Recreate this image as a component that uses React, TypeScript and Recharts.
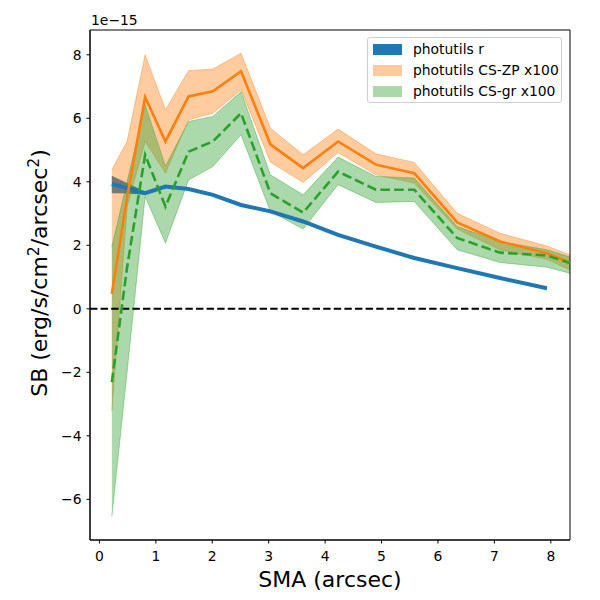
import React from 'react';
import { ComposedChart, Area, Line, XAxis, YAxis, ReferenceLine, ReferenceArea } from 'recharts';

// SMA sample points (arcsec); the last one lies just past the right edge
const sma = [0.22, 0.49, 0.81, 1.17, 1.58, 2.01, 2.51, 3.03, 3.61, 4.23, 4.9, 5.58, 6.34, 7.1, 7.93, 8.8];

// photutils r (units of 1e-15)
const rMean = [3.93, 3.8, 3.64, 3.85, 3.77, 3.59, 3.27, 3.07, 2.75, 2.33, 1.96, 1.6, 1.28, 0.97, 0.65, null];
const rLo = [3.64, 3.63, 3.59, 3.81, 3.73, 3.55, 3.23, 3.03, 2.71, 2.29, 1.92, 1.56, 1.24, 0.93, 0.61, null];
const rHi = [4.19, 3.96, 3.69, 3.89, 3.81, 3.63, 3.31, 3.11, 2.79, 2.37, 2.0, 1.64, 1.32, 1.01, 0.69, null];

// photutils CS-ZP x100
const zpMean = [0.47, 3.5, 6.67, 5.27, 6.69, 6.85, 7.48, 5.18, 4.43, 5.27, 4.54, 4.27, 2.72, 2.12, 1.75, 1.13];
const zpLo = [-3.23, 3.2, 5.27, 4.27, 5.95, 6.16, 6.9, 4.62, 3.98, 4.92, 4.22, 3.96, 2.51, 1.86, 1.56, 0.86];
const zpHi = [4.38, 5.27, 8.0, 6.27, 7.5, 7.55, 8.05, 5.69, 4.85, 5.66, 4.88, 4.61, 3.01, 2.38, 1.98, 1.38];

// photutils CS-gr x100
const grMean = [-2.31, 1.3, 4.85, 3.22, 4.95, 5.27, 6.16, 3.64, 3.03, 4.32, 3.75, 3.75, 2.23, 1.77, 1.68, 1.17];
const grLo = [-6.54, -2.0, 3.54, 2.07, 4.06, 4.48, 5.48, 3.07, 2.51, 3.91, 3.35, 3.38, 1.86, 1.46, 1.31, 0.91];
const grHi = [1.96, 4.0, 6.42, 4.5, 5.9, 6.06, 6.84, 4.22, 3.59, 4.78, 4.17, 4.12, 2.59, 2.12, 1.86, 1.37];

const xTicks = [0, 1, 2, 3, 4, 5, 6, 7, 8];
const yTicks = [-6, -4, -2, 0, 2, 4, 6, 8];

const legendItems = [
  { label: 'photutils r', color: '#1f77b4', opacity: 1 },
  { label: 'photutils CS-ZP x100', color: '#ff7f0e', opacity: 0.4 },
  { label: 'photutils CS-gr x100', color: '#2ca02c', opacity: 0.4 },
];

const data = sma.map((x, i) => ({
  sma: x,
  r: rMean[i],
  rBand: rMean[i] == null ? null : [rLo[i], rHi[i]],
  zp: zpMean[i],
  zpBand: [zpLo[i], zpHi[i]],
  gr: grMean[i],
  grBand: [grLo[i], grHi[i]],
}));

const font = '"DejaVu Sans", sans-serif';
const tickStyle = { fill: '#000', fontSize: 13.9, fontFamily: font };
const fmt = (v: number) => (v < 0 ? '\u2212' + Math.abs(v) : String(v));

const App: React.FC = () => {
  return (
    <div style={{ position: 'absolute', left: 0, top: 0, width: 600, height: 600, background: '#fff' }}>
      <ComposedChart width={600} height={600} data={data} margin={{ top: 30, right: 30, left: 0, bottom: 0 }}>
        <XAxis
          type="number"
          dataKey="sma"
          domain={[-0.167, 8.34]}
          ticks={xTicks}
          allowDataOverflow
          height={60}
          stroke="#000"
          tickSize={3.5}
          tickMargin={8}
          tick={tickStyle}
        />
        <YAxis
          type="number"
          domain={[-7.28, 8.78]}
          ticks={yTicks}
          allowDataOverflow
          width={90}
          stroke="#000"
          tickSize={3.5}
          tickMargin={5}
          tick={tickStyle}
          tickFormatter={fmt}
        />
        <Area type="linear" dataKey="rBand" fill="#1f77b4" fillOpacity={1} stroke="none" isAnimationActive={false} />
        <Area
          type="linear"
          dataKey="zpBand"
          fill="#ff7f0e"
          fillOpacity={0.4}
          stroke="#ff7f0e"
          strokeOpacity={0.4}
          strokeWidth={1}
          isAnimationActive={false}
        />
        <Area
          type="linear"
          dataKey="grBand"
          fill="#2ca02c"
          fillOpacity={0.4}
          stroke="#2ca02c"
          strokeOpacity={0.4}
          strokeWidth={1}
          isAnimationActive={false}
        />
        <ReferenceLine y={0} stroke="#000" strokeWidth={2} strokeDasharray="7.4 3.2" />
        <Line type="linear" dataKey="r" stroke="#1f77b4" strokeWidth={4} dot={false} isAnimationActive={false} />
        <Line type="linear" dataKey="zp" stroke="#ff7f0e" strokeWidth={2.6} dot={false} isAnimationActive={false} />
        <Line
          type="linear"
          dataKey="gr"
          stroke="#2ca02c"
          strokeWidth={2.6}
          strokeDasharray="9.6 4.2"
          dot={false}
          isAnimationActive={false}
        />
        <ReferenceArea x1={-0.167} x2={8.34} y1={-7.28} y2={8.78} fill="none" stroke="#000" strokeWidth={1} />
      </ComposedChart>

      <svg width={600} height={600} style={{ position: 'absolute', left: 0, top: 0, pointerEvents: 'none' }}>
        <text x={91} y={25} fontSize={13.9} fontFamily={font} fill="#000">
          1e{'\u2212'}15
        </text>
        <text x={330} y={587} fontSize={22} fontFamily={font} fill="#000" textAnchor="middle">
          SMA (arcsec)
        </text>
        <text
          x={47}
          y={273}
          fontSize={22}
          fontFamily={font}
          fill="#000"
          textAnchor="middle"
          transform="rotate(-90 47 273)"
        >
          SB (erg/s/cm
          <tspan dy={-8} fontSize={15.5}>2</tspan>
          <tspan dy={8}>/arcsec</tspan>
          <tspan dy={-8} fontSize={15.5}>2</tspan>
          <tspan dy={8}>)</tspan>
        </text>
      </svg>

      <div
        style={{
          position: 'absolute',
          left: 367,
          top: 37,
          width: 195,
          height: 66,
          border: '1px solid #d0d0d0',
          borderRadius: 3,
          background: 'rgba(255,255,255,0.8)',
          boxSizing: 'border-box',
          fontFamily: font,
          fontSize: 13.9,
        }}
      >
        {legendItems.map((item, i) => (
          <div key={item.label} style={{ position: 'absolute', left: 5, top: 5 + i * 21, height: 13, display: 'flex', alignItems: 'center' }}>
            <div
              style={{
                width: 29,
                height: 11,
                background: item.color,
                opacity: item.opacity,
                boxSizing: 'border-box',
                border: `1px solid ${item.color}`,
              }}
            />
            <span style={{ marginLeft: 11, whiteSpace: 'nowrap', lineHeight: '13px' }}>{item.label}</span>
          </div>
        ))}
      </div>
    </div>
  );
};

export default App;
